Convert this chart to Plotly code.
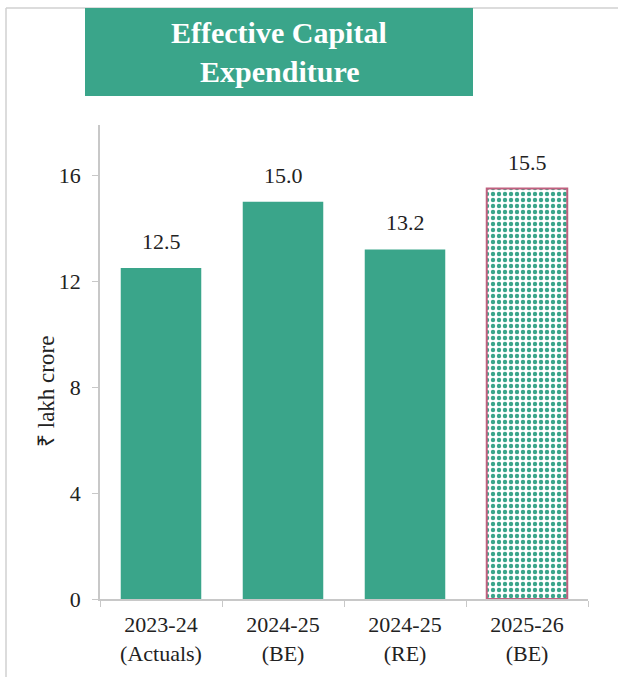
import plotly.graph_objects as go

categories = ["2023-24<br>(Actuals)", "2024-25<br>(BE)", "2024-25<br>(RE)", "2025-26<br>(BE)"]
values = [12.5, 15.0, 13.2, 15.5]
labels = ["12.5", "15.0", "13.2", "15.5"]
y_ticks = [0, 4, 8, 12, 16]

GREEN = "#3AA58A"
SERIF = "Liberation Serif"
TXT = "#222222"

W, H = 618, 677
L, R, T, B = 100, 30, 125, 78
pw, ph = W - L - R, H - T - B

def px_x(x):
    return (x - L) / pw

def px_y(y):
    return (H - B - y) / ph

solid = dict(color=GREEN, line=dict(width=0))
patterned = dict(color="white",
                 pattern=dict(shape=".", fgcolor=GREEN, bgcolor="white", fgopacity=1, size=6, solidity=0.42,
                              fillmode="replace"),
                 line=dict(color="#C0607F", width=2))

fig = go.Figure()
fig.add_trace(go.Bar(x=categories[:3], y=values[:3], marker=solid, hoverinfo="skip"))
fig.add_trace(go.Bar(x=categories[3:], y=values[3:], marker=patterned, hoverinfo="skip"))

for c, v, t in zip(categories, values, labels):
    fig.add_annotation(x=c, y=v, text=t, showarrow=False, yanchor="bottom", yshift=12,
                       font=dict(family=SERIF, size=22, color=TXT))

fig.update_layout(
    width=W, height=H, showlegend=False, barmode="group", bargap=0.34,
    margin=dict(l=L, r=R, t=T, b=B),
    plot_bgcolor="white", paper_bgcolor="white",
    font=dict(family=SERIF, size=22, color=TXT),
    xaxis=dict(categoryorder="array", categoryarray=categories, showline=True, linecolor="#C8C8C8",
               linewidth=1.5, ticks="outside", tickson="boundaries", ticklen=6, tickcolor="#C8C8C8",
               ticklabelstandoff=5, tickfont=dict(family=SERIF, size=22, color=TXT)),
    yaxis=dict(range=[0, 17.9], tickvals=y_ticks, showline=True, linecolor="#C8C8C8", linewidth=1.5,
               ticks="outside", ticklen=6, tickcolor="#C8C8C8", showgrid=False, zeroline=False,
               ticklabelstandoff=7, tickfont=dict(family=SERIF, size=22, color=TXT)),
)

# y axis title
fig.add_annotation(xref="paper", yref="paper", x=px_x(46), y=px_y(392), text="₹ lakh crore", textangle=-90,
                   showarrow=False, xanchor="center", yanchor="middle",
                   font=dict(family=SERIF, size=23, color=TXT))

# outer border (left and top)
fig.add_shape(type="line", xref="paper", yref="paper", x0=px_x(6), x1=px_x(6), y0=px_y(8), y1=px_y(677),
              line=dict(color="#D0D0D0", width=1.5))
fig.add_shape(type="line", xref="paper", yref="paper", x0=px_x(6), x1=px_x(618), y0=px_y(8), y1=px_y(8),
              line=dict(color="#D0D0D0", width=1.5))
# title box
fig.add_shape(type="rect", xref="paper", yref="paper", x0=px_x(85), x1=px_x(473), y0=px_y(96), y1=px_y(8),
              fillcolor=GREEN, line=dict(width=0), layer="above")
fig.add_annotation(xref="paper", yref="paper", x=px_x(279), y=px_y(33), showarrow=False,
                   xanchor="center", yanchor="middle", text="<b>Effective Capital</b>",
                   font=dict(family=SERIF, size=30, color="white"))
fig.add_annotation(xref="paper", yref="paper", x=px_x(279), y=px_y(72), showarrow=False,
                   xanchor="center", yanchor="middle", text="<b>Expenditure</b>",
                   font=dict(family=SERIF, size=30, color="white"))

fig.write_html("out.html", config={"displayModeBar": False},
               post_script="document.body.style.margin='0';")
